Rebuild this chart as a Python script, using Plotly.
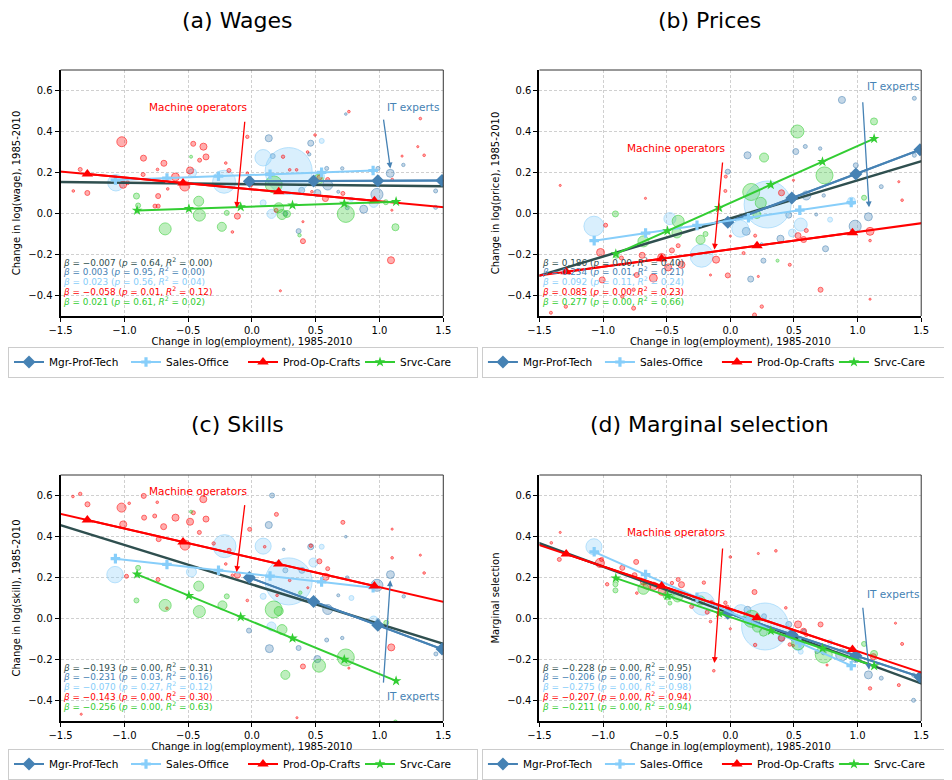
import numpy as np
import plotly.graph_objects as go

GROUPS = ["Mgr-Prof-Tech", "Sales-Office", "Prod-Op-Crafts", "Srvc-Care"]
RGB = {"Mgr-Prof-Tech": "70,130,180", "Sales-Office": "135,206,250",
       "Prod-Op-Crafts": "255,0,0", "Srvc-Care": "50,205,50"}
ALL_RGB = "47,79,79"
SYMBOL = {"Mgr-Prof-Tech": "diamond", "Sales-Office": "cross",
          "Prod-Op-Crafts": "triangle-up", "Srvc-Care": "star"}

TITLES = ["(a) Wages", "(b) Prices", "(c) Skills", "(d) Marginal selection"]
YLABELS = ["Change in log(wage), 1985-2010", "Change in log(price), 1985-2010",
           "Change in log(skill), 1985-2010", "Marginal selection"]
XLABEL = "Change in log(employment), 1985-2010"
X_TICKS = [-1.5, -1.0, -0.5, 0.0, 0.5, 1.0, 1.5]
Y_TICKS = [-0.4, -0.2, 0.0, 0.2, 0.4, 0.6]

# occupations: (change in log employment, outcome, employment share %)
WAGE_MGR = [(0.736, 0.485, 0.03), (0.132, 0.367, 0.22), (0.163, 0.28, 0.11), (0.461, 0.343, 0.16),
            (0.449, 0.289, 0.05), (0.586, 0.22, 0.07), (0.708, 0.22, 0.05), (0.988, 0.22, 0.07),
            (1.187, 0.237, 0.05), (1.084, 0.196, 0.28), (0.594, 0.139, 0.44), (0.39, 0.113, 0.16),
            (0.513, 0.10, 0.22), (0.98, 0.093, 0.64), (0.876, 0.021, 0.28), (0.747, 0.028, 0.07),
            (0.262, 0.0, 0.11), (0.366, -0.086, 0.11), (1.44, 0.11, 0.07), (1.44, 0.03, 0.07),
            (0.677, 0.106, 0.04)]
WAGE_SALES = [(-1.066, 0.15, 1.2), (-0.465, 0.199, 0.28), (-0.218, 0.155, 2.35), (0.088, 0.272, 1.2),
              (0.288, 0.207, 9.8), (0.547, 0.354, 0.11), (0.088, 0.052, 0.16), (0.153, -0.002, 0.36),
              (0.954, 0.052, 0.36), (0.53, 0.18, 0.44), (0.78, 0.069, 0.07)]
WAGE_PROD = [(-1.346, 0.215, 0.07), (-1.40, 0.11, 0.03), (-1.29, 0.10, 0.11), (-1.02, 0.35, 0.44),
             (-1.01, 0.14, 0.22), (-0.975, 0.15, 0.07), (-0.85, 0.27, 0.16), (-0.853, 0.19, 0.07),
             (-0.74, 0.215, 0.03), (-0.69, 0.245, 0.16), (-0.735, 0.085, 0.11), (-0.76, 0.036, 0.07),
             (-0.735, 0.036, 0.07), (-0.66, 0.12, 0.03), (-0.60, 0.178, 0.28), (-0.526, 0.134, 0.44),
             (-0.485, 0.21, 0.22), (-0.46, 0.34, 0.11), (-0.38, 0.326, 0.22), (-0.36, 0.276, 0.16),
             (-0.41, 0.26, 0.07), (-0.205, 0.246, 0.03), (-0.18, 0.21, 0.07), (-0.153, -0.09, 0.03),
             (-0.114, -0.013, 0.16), (-0.036, 0.374, 0.05), (-0.036, 0.197, 0.03), (-0.01, 0.139, 0.07),
             (0.19, 0.015, 0.07), (0.244, 0.277, 0.05), (0.296, 0.213, 0.03), (0.35, 0.213, 0.03),
             (0.40, -0.04, 0.02), (0.40, -0.135, 0.11), (0.223, -0.377, 0.02), (0.436, 0.30, 0.03),
             (0.47, 0.106, 0.03), (0.495, 0.383, 0.03), (0.529, 0.175, 0.11), (0.594, 0.166, 0.07),
             (0.576, 0.073, 0.16), (0.713, 0.098, 0.07), (0.76, 0.497, 0.03), (1.09, -0.228, 0.22),
             (1.097, 0.016, 0.02), (1.10, 0.166, 0.03), (1.177, 0.28, 0.02), (1.30, 0.326, 0.02),
             (1.32, 0.463, 0.03), (1.35, 0.284, 0.03)]
WAGE_SRVC = [(-0.905, 0.085, 0.16), (-0.892, 0.039, 0.11), (-0.477, 0.277, 0.04), (-0.68, -0.075, 0.64),
             (-0.417, 0.06, 0.44), (-0.412, -0.008, 0.64), (-0.236, -0.065, 0.36), (-0.197, 0.003, 0.11),
             (0.171, 0.142, 1.28), (0.21, 0.028, 0.44), (0.236, -0.005, 0.44), (0.275, -0.002, 0.22),
             (0.736, -0.002, 1.28), (0.52, 0.166, 0.44), (1.125, -0.067, 0.22), (1.05, 0.055, 0.11),
             (0.373, -0.106, 0.05)]

PRICE_MGR = [(0.877, 0.554, 0.22), (1.446, 0.562, 0.07), (1.446, 0.284, 0.07), (0.135, 0.284, 0.22),
             (0.514, 0.302, 0.16), (0.589, 0.327, 0.07), (0.706, 0.317, 0.05), (-0.02, 0.204, 0.11),
             (0.986, 0.235, 0.11), (1.186, 0.131, 0.07), (0.734, 0.088, 0.05), (0.597, 0.088, 0.36),
             (0.48, 0.074, 0.22), (0.459, -0.008, 0.16), (0.675, -0.005, 0.04), (1.085, -0.016, 0.28),
             (0.981, -0.062, 0.64), (0.125, -0.087, 0.28), (0.394, -0.123, 0.22), (0.748, -0.172, 0.16),
             (0.26, -0.23, 0.11), (0.16, -0.32, 0.16), (0.246, -0.149, 0.03)]
PRICE_SALES = [(-1.072, -0.062, 1.78), (-0.475, -0.025, 0.64), (-0.226, -0.206, 2.35), (0.078, -0.074, 1.28),
               (0.293, 0.044, 9.8), (0.553, -0.054, 0.75), (0.488, -0.095, 0.28), (0.952, 0.06, 0.28),
               (0.784, -0.03, 0.11)]
PRICE_PROD = [(-1.337, 0.137, 0.02), (-1.41, -0.484, 0.04), (-1.293, -0.454, 0.05), (-0.98, -0.057, 0.07),
              (-1.02, -0.19, 0.28), (-1.007, -0.324, 0.16), (-0.856, -0.217, 0.07), (-0.849, -0.405, 0.05),
              (-0.735, -0.30, 0.11), (-0.76, -0.372, 0.05), (-0.76, -0.462, 0.07), (-0.693, -0.204, 0.16),
              (-0.667, 0.074, 0.02), (-0.605, -0.315, 0.28), (-0.54, -0.214, 0.28), (-0.488, -0.263, 0.22),
              (-0.459, -0.18, 0.11), (-0.41, -0.157, 0.07), (-0.384, -0.25, 0.22), (-0.304, -0.204, 0.03),
              (-0.156, -0.30, 0.02), (-0.112, -0.225, 0.22), (-0.039, 0.11, 0.04), (-0.036, 0.18, 0.04),
              (-0.02, -0.302, 0.11), (0.0, -0.11, 0.02), (0.195, -0.108, 0.04), (0.104, -0.193, 0.04),
              (0.22, -0.307, 0.02), (0.19, -0.495, 0.07), (0.247, -0.454, 0.05), (0.402, 0.101, 0.16),
              (0.467, -0.25, 0.04), (0.532, -0.108, 0.16), (0.576, -0.127, 0.16), (0.597, -0.083, 0.07),
              (0.496, 0.162, 0.02), (0.709, -0.372, 0.11), (1.098, -0.087, 0.28), (1.098, -0.132, 0.03),
              (1.098, -0.418, 0.02), (1.324, 0.155, 0.02), (1.35, 0.065, 0.03)]
PRICE_SRVC = [(-0.903, -0.002, 0.16), (-0.895, -0.206, 0.11), (-0.683, -0.136, 0.54), (-0.41, -0.038, 0.64),
              (-0.42, -0.095, 0.44), (-0.234, -0.128, 0.36), (-0.195, -0.10, 0.11), (0.164, 0.105, 1.28),
              (0.239, 0.052, 0.54), (0.208, -0.005, 0.28), (0.265, 0.273, 0.36), (0.527, 0.40, 0.75),
              (0.74, 0.186, 1.28), (1.129, 0.449, 0.22), (1.051, 0.077, 0.11), (0.371, -0.23, 0.04)]

SKILL_MGR = [(0.158, 0.60, 0.11), (0.132, 0.456, 0.22), (0.249, 0.337, 0.03), (0.461, 0.35, 0.16),
             (0.262, 0.235, 0.11), (0.392, 0.235, 0.16), (0.736, 0.399, 0.03), (0.747, 0.198, 0.07),
             (0.677, 0.113, 0.04), (0.594, 0.044, 0.44), (1.086, 0.214, 0.28), (0.98, 0.162, 0.64),
             (1.19, 0.108, 0.05), (0.988, -0.01, 0.07), (-0.023, -0.059, 0.11), (0.137, -0.147, 0.28),
             (0.366, -0.144, 0.11), (0.513, -0.198, 0.22), (0.586, -0.105, 0.07), (0.708, -0.095, 0.05),
             (1.442, -0.173, 0.07), (0.482, 0.085, 0.22)]
SKILL_SALES = [(-1.073, 0.214, 1.2), (-0.474, 0.227, 0.44), (-0.215, 0.353, 2.35), (0.088, 0.353, 1.14),
               (0.288, 0.181, 9.8), (0.547, 0.35, 0.11), (0.482, 0.273, 0.36), (0.088, 0.108, 0.16),
               (0.153, -0.039, 0.36), (0.954, -0.01, 0.36), (0.78, 0.10, 0.11)]
SKILL_PROD = [(-1.403, 0.595, 0.03), (-1.346, 0.608, 0.05), (-1.289, 0.557, 0.11), (-1.022, 0.541, 0.36),
              (-1.009, 0.459, 0.22), (-0.983, 0.206, 0.07), (-0.962, 0.562, 0.03), (-0.848, 0.598, 0.11),
              (-0.845, 0.492, 0.11), (-0.762, 0.50, 0.07), (-0.742, 0.567, 0.03), (-0.736, 0.19, 0.07),
              (-0.731, 0.387, 0.11), (-0.692, 0.448, 0.16), (-0.666, 0.05, 0.03), (-0.599, 0.492, 0.22),
              (-0.524, 0.358, 0.44), (-0.485, 0.472, 0.22), (-0.459, 0.516, 0.07), (-0.412, 0.42, 0.07),
              (-0.381, 0.582, 0.22), (-0.36, 0.485, 0.16), (-0.30, 0.366, 0.05), (-0.205, 0.266, 0.03),
              (-0.179, 0.333, 0.07), (-0.153, 0.211, 0.03), (-0.114, 0.211, 0.16), (-0.036, 0.088, 0.03),
              (-0.018, 0.435, 0.07), (0.10, 0.35, 0.03), (0.192, 0.508, 0.07), (0.197, 0.113, 0.03),
              (0.296, 0.186, 0.03), (0.40, -0.234, 0.11), (0.353, -0.484, 0.02), (0.462, 0.355, 0.05),
              (0.438, 0.15, 0.02), (0.529, 0.279, 0.11), (0.594, 0.243, 0.07), (0.578, 0.203, 0.22),
              (0.713, 0.469, 0.07), (0.76, -0.242, 0.02), (1.092, -0.141, 0.22), (1.099, 0.296, 0.03),
              (1.099, 0.436, 0.02), (1.32, 0.309, 0.02), (1.35, 0.222, 0.03), (-1.338, -0.467, 0.02)]
SKILL_SRVC = [(-0.892, 0.247, 0.11), (-0.905, 0.088, 0.11), (-0.477, 0.521, 0.04), (-0.68, 0.064, 0.64),
              (-0.417, 0.158, 0.44), (-0.412, 0.034, 0.64), (-0.231, 0.064, 0.36), (-0.197, 0.108, 0.11),
              (0.171, 0.044, 1.28), (0.21, 0.036, 0.36), (0.236, -0.054, 0.44), (0.262, -0.275, 0.36),
              (0.526, -0.23, 0.75), (0.736, -0.19, 1.28), (1.125, -0.505, 0.07), (1.053, -0.021, 0.11),
              (0.379, 0.126, 0.05)]

SEL_MGR = [(0.135, 0.042, 0.22), (0.265, 0.011, 0.11), (0.402, -0.095, 0.22), (0.459, -0.029, 0.16),
           (0.579, -0.062, 0.07), (0.68, -0.162, 0.07), (0.875, -0.178, 0.64), (0.986, -0.19, 0.44),
           (1.085, -0.275, 0.28), (1.186, -0.291, 0.07), (1.44, -0.399, 0.07), (1.44, -0.276, 0.07),
           (0.734, -0.165, 0.11)]
SEL_SALES = [(-1.072, 0.35, 1.14), (-0.215, 0.072, 2.35), (0.083, 0.031, 1.0), (0.273, -0.039, 9.8),
             (0.532, -0.127, 0.64), (0.553, -0.162, 0.11), (-0.475, 0.121, 0.44), (0.784, -0.116, 0.11),
             (0.952, -0.181, 0.28)]
SEL_PROD = [(-1.407, 0.369, 0.03), (-1.337, 0.42, 0.02), (-1.344, 0.288, 0.07), (-1.025, 0.271, 0.36),
            (-1.012, 0.288, 0.07), (-0.968, 0.167, 0.05), (-0.74, 0.276, 0.11), (-0.735, 0.124, 0.03),
            (-0.849, 0.247, 0.11), (-0.753, 0.211, 0.11), (-0.683, 0.178, 0.16), (-0.654, 0.162, 0.28),
            (-0.602, 0.158, 0.28), (-0.537, 0.132, 0.28), (-0.459, 0.173, 0.05), (-0.41, 0.19, 0.07),
            (-0.384, 0.165, 0.16), (-0.304, 0.059, 0.07), (-0.208, 0.175, 0.05), (-0.182, 0.031, 0.07),
            (-0.156, -0.015, 0.03), (-0.13, -0.255, 0.03), (-0.039, 0.077, 0.05), (0.0, 0.30, 0.03),
            (-0.026, 0.056, 0.07), (0.0, -0.05, 0.02), (0.19, 0.129, 0.11), (0.195, -0.129, 0.05),
            (0.22, 0.317, 0.02), (0.358, 0.33, 0.03), (0.402, -0.096, 0.16), (0.436, 0.052, 0.03),
            (0.467, -0.127, 0.05), (0.532, -0.029, 0.22), (0.576, -0.062, 0.16), (0.597, -0.08, 0.05),
            (0.493, -0.132, 0.03), (0.709, -0.029, 0.11), (0.76, -0.227, 0.02), (1.124, -0.186, 0.16),
            (1.098, -0.341, 0.05), (1.298, -0.023, 0.02), (1.324, -0.325, 0.04), (1.35, -0.124, 0.04),
            (-0.148, 0.08, 0.05)]
SEL_SRVC = [(-0.903, 0.167, 0.11), (-0.903, 0.137, 0.11), (-0.683, 0.145, 0.54), (-0.475, 0.075, 0.07),
            (-0.415, 0.105, 0.44), (-0.493, 0.113, 0.36), (-0.234, 0.088, 0.36), (0.169, -0.002, 1.28),
            (0.26, -0.067, 0.28), (0.213, -0.042, 0.44), (0.532, -0.121, 0.75), (0.734, -0.176, 1.28),
            (1.051, -0.124, 0.11), (1.129, -0.173, 0.22)]

# regressions, order: all occupations, Mgr-Prof-Tech, Sales-Office, Prod-Op-Crafts, Srvc-Care
BETA_WAGE = [-0.007, 0.003, 0.023, -0.058, 0.021]
P_WAGE = [0.64, 0.95, 0.56, 0.01, 0.61]
R2_WAGE = [0.00, 0.00, 0.04, 0.12, 0.02]
ICPT_WAGE = [0.143, 0.157, 0.188, 0.118, 0.034]

BETA_PRICE = [0.186, 0.234, 0.092, 0.085, 0.277]
P_PRICE = [0.00, 0.01, 0.11, 0.00, 0.00]
R2_PRICE = [0.40, 0.21, 0.24, 0.23, 0.66]
ICPT_PRICE = [-0.024, -0.038, -0.034, -0.175, 0.052]

BETA_SKILL = [-0.193, -0.231, -0.070, -0.143, -0.256]
P_SKILL = [0.00, 0.03, 0.27, 0.00, 0.00]
R2_SKILL = [0.31, 0.16, 0.12, 0.30, 0.63]
ICPT_SKILL = [0.166, 0.195, 0.217, 0.296, -0.015]

BETA_SEL = [-0.228, -0.206, -0.275, -0.207, -0.211]
P_SEL = [0.00, 0.00, 0.00, 0.00, 0.00]
R2_SEL = [0.95, 0.90, 0.98, 0.94, 0.94]
ICPT_SEL = [0.025, 0.022, 0.031, 0.047, 0.007]

# group employment-change range used for the fitted group lines
GROUP_XRANGE = {"Mgr-Prof-Tech": (-0.02, 1.49, 4), "Sales-Office": (-1.07, 0.95, 6),
                "Prod-Op-Crafts": (-1.29, 0.96, 4), "Srvc-Care": (-0.9, 1.13, 6)}

PANELS = [
    dict(pts=[WAGE_MGR, WAGE_SALES, WAGE_PROD, WAGE_SRVC], beta=BETA_WAGE, p=P_WAGE, r2=R2_WAGE, icpt=ICPT_WAGE,
         mo=(-0.12, 0.028, -0.055, 0.455, 0.52), it=(1.085, 0.22, 1.03, 0.465, 0.52)),
    dict(pts=[PRICE_MGR, PRICE_SALES, PRICE_PROD, PRICE_SRVC], beta=BETA_PRICE, p=P_PRICE, r2=R2_PRICE,
         icpt=ICPT_PRICE, mo=(-0.125, -0.176, -0.06, 0.256, 0.318), it=(1.09, 0.03, 1.04, 0.55, 0.62)),
    dict(pts=[SKILL_MGR, SKILL_SALES, SKILL_PROD, SKILL_SRVC], beta=BETA_SKILL, p=P_SKILL, r2=R2_SKILL,
         icpt=ICPT_SKILL, mo=(-0.12, 0.227, -0.055, 0.56, 0.62), it=(1.085, 0.186, 1.03, -0.32, -0.377)),
    dict(pts=[SEL_MGR, SEL_SALES, SEL_PROD, SEL_SRVC], beta=BETA_SEL, p=P_SEL, r2=R2_SEL, icpt=ICPT_SEL,
         mo=(-0.125, -0.217, -0.06, 0.349, 0.42), it=(1.09, -0.25, 1.04, 0.06, 0.118)),
]

FONT = "DejaVu Sans"
OFF = 8  # page body margin around the figure
W, H = 952 - OFF, 780 - OFF


def px(v):
    return (v - OFF) / W


def py(v):
    return 1 - (v - OFF) / H


XDOM = [[px(60), px(446)], [px(543), px(928)]]
YDOM = [[py(316), py(70)], [py(721), py(475)]]


def stat_text(b, p, r2):
    bs = f"{b:.3f}".replace("-", "−")
    return f"<i>β</i> = {bs} (<i>p</i> = {p:.2f}, <i>R</i><sup>2</sup> = {r2:.2f})"


fig = go.Figure()
annotations = []
shapes = []
layout = {}

for i, pan in enumerate(PANELS):
    sfx = "" if i == 0 else str(i + 1)
    xa, ya = "x" + sfx, "y" + sfx
    leg = "legend" + sfx
    col, row = i % 2, i // 2

    # scatter of occupations
    for g, pts in zip(GROUPS, pan["pts"]):
        arr = np.array(pts)
        fig.add_trace(go.Scatter(
            x=arr[:, 0], y=arr[:, 1], mode="markers", xaxis=xa, yaxis=ya, showlegend=False,
            marker=dict(size=15 * np.sqrt(arr[:, 2]), color=f"rgba({RGB[g]},0.45)",
                        line=dict(color=f"rgba({RGB[g]},0.85)", width=1)),
            hoverinfo="skip"))

    # overall fit
    xx = np.array([-1.6, 1.6])
    fig.add_trace(go.Scatter(
        x=xx, y=pan["icpt"][0] + pan["beta"][0] * xx, mode="lines", xaxis=xa, yaxis=ya,
        line=dict(color=f"rgb({ALL_RGB})", width=2.5), showlegend=False, hoverinfo="skip"))

    # group fits
    for k, g in enumerate(GROUPS):
        lo, hi, n = GROUP_XRANGE[g]
        b, a = pan["beta"][k + 1], pan["icpt"][k + 1]
        if g in ("Prod-Op-Crafts", "Mgr-Prof-Tech"):
            ext = np.array([-1.6, 1.6]) if g == "Prod-Op-Crafts" else np.array([lo, 1.6])
            fig.add_trace(go.Scatter(
                x=ext, y=a + b * ext, mode="lines", xaxis=xa, yaxis=ya,
                line=dict(color=f"rgb({RGB[g]})", width=2), showlegend=False, hoverinfo="skip"))
        gx = np.linspace(lo, hi, n)
        fig.add_trace(go.Scatter(
            x=gx, y=a + b * gx, mode="lines+markers", xaxis=xa, yaxis=ya, name=g, legend=leg,
            line=dict(color=f"rgb({RGB[g]})", width=2),
            marker=dict(symbol=SYMBOL[g], size={"Sales-Office": 8, "Srvc-Care": 8}.get(g, 10),
                        color=f"rgb({RGB[g]})", line=dict(width=0))))

    # stats text
    stat_colors = [ALL_RGB] + [RGB[g] for g in GROUPS]
    for k in range(5):
        annotations.append(dict(
            xref=xa + " domain", yref=ya + " domain", x=0.003, y=0.2207 - 0.0397 * k,
            xanchor="left", yanchor="middle", showarrow=False, borderpad=0,
            text=stat_text(pan["beta"][k], pan["p"][k], pan["r2"][k]),
            font=dict(family=FONT, size=8.9, color=f"rgb({stat_colors[k]})")))

    # labelled occupations
    for (hx, hy, tx, ty, ly), label, color, anch in [
            (pan["mo"], "Machine operators", "red", "right"),
            (pan["it"], "IT experts", "rgb(70,130,180)", "left")]:
        annotations.append(dict(
            x=hx, y=hy, ax=tx, ay=ty, xref=xa, yref=ya, axref=xa, ayref=ya, text="",
            showarrow=True, arrowhead=2, arrowsize=0.9, arrowwidth=1.3, arrowcolor=color, standoff=0))
        annotations.append(dict(
            x=tx + (0.03 if anch == "right" else 0.015), y=ly, xref=xa, yref=ya, text=label,
            showarrow=False, xanchor=anch, yanchor="middle",
            font=dict(family=FONT, size=10.5, color=color)))

    # panel title
    annotations.append(dict(
        xref="paper", yref="paper", x=px(238 + 476 * col), y=py(21 if row == 0 else 424),
        text=TITLES[i], showarrow=False, xanchor="center", yanchor="middle",
        font=dict(family=FONT, size=22, color="black")))

    # thin top and right spines
    for x0, y0, x1, y1 in [(0, 1, 1, 1), (1, 0, 1, 1)]:
        shapes.append(dict(type="line", xref=xa + " domain", yref=ya + " domain",
                           x0=x0, y0=y0, x1=x1, y1=y1, line=dict(color="#333333", width=1)))

    axis_common = dict(showline=True, mirror=False, linecolor="black", linewidth=2,
                       ticks="outside", ticklen=4, tickwidth=1, tickcolor="black",
                       showgrid=True, gridcolor="#d0d0d0", gridwidth=1, griddash="3px,2px",
                       zeroline=False, tickfont=dict(family=FONT, size=10, color="black"),
                       tickformat=".1f", automargin=False)
    layout["xaxis" + sfx] = dict(
        axis_common, domain=XDOM[col], range=[-1.5, 1.5], tickvals=X_TICKS, anchor=ya,
        title=dict(text=XLABEL, font=dict(family=FONT, size=10, color="black"), standoff=3))
    layout["yaxis" + sfx] = dict(
        axis_common, domain=YDOM[row], range=[-0.5, 0.7], tickvals=Y_TICKS, anchor=xa,
        title=dict(text=YLABELS[i], font=dict(family=FONT, size=10, color="black"), standoff=6))
    layout[leg] = dict(
        orientation="h", x=px(244 if col == 0 else 722), xanchor="center",
        y=py(362 if row == 0 else 764), yanchor="middle",
        font=dict(family=FONT, size=10.5, color="black"), bordercolor="#cccccc", borderwidth=1,
        bgcolor="white", entrywidth=72, itemwidth=30)

fig.update_layout(
    width=W, height=H, autosize=False, margin=dict(l=0, r=0, t=0, b=0),
    plot_bgcolor="white", paper_bgcolor="white", font=dict(family=FONT),
    annotations=annotations, shapes=shapes, **layout)

fig.write_html("out.html")
